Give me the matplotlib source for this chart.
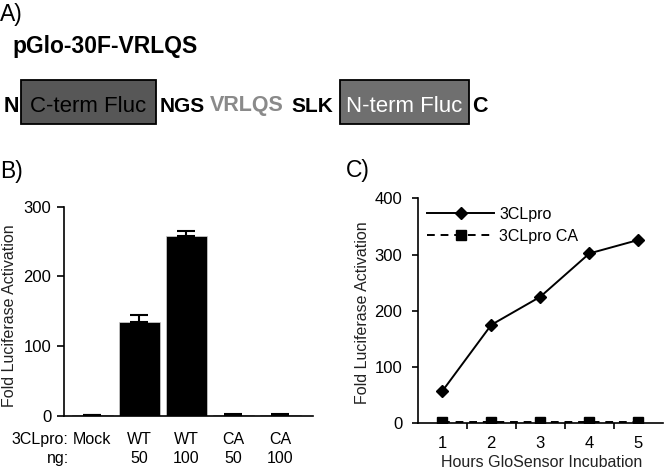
import numpy as np
import matplotlib
matplotlib.use("Agg")
import matplotlib.pyplot as plt
from matplotlib.patches import Rectangle

plt.rcParams['font.family'] = ['Liberation Sans', 'DejaVu Sans']

# --- data ---
# panel B: fold activation per transfection
b_row1 = ["Mock", "WT", "WT", "CA", "CA"]
b_row2 = ["", "50", "100", "50", "100"]
b_values = [1.0, 134, 258, 1.5, 1.5]
b_errors = [0.5, 10.5, 6.5, 0.5, 0.5]

# panel C: time course
c_hours = [1, 2, 3, 4, 5]
c_wt = [57, 175, 225, 302, 326]
c_ca = [2, 2, 2, 2, 2]
c_labels = ["3CLpro", "3CLpro CA"]

W, H = 666, 471
fig = plt.figure(figsize=(W / 100, H / 100), dpi=100)


def fx(px):
    return px / W


def fy(py):
    return 1 - py / H


# --- panel A: construct diagram ---
fig.text(fx(0), fy(21), "A)", fontsize=16.5, va='baseline', ha='left')
fig.text(fx(12), fy(53), "pGlo-30F-VRLQS", fontsize=16.5, fontweight='bold',
         va='baseline', ha='left')

base = fy(111.5)
fig.add_artist(Rectangle((fx(21), fy(124)), fx(156) - fx(21), fy(80) - fy(124),
                         transform=fig.transFigure, facecolor='#575757',
                         edgecolor='black', linewidth=1.3))
fig.add_artist(Rectangle((fx(340), fy(124)), fx(469) - fx(340), fy(80) - fy(124),
                         transform=fig.transFigure, facecolor='#6f6f6f',
                         edgecolor='black', linewidth=1.3))

row = dict(ha='center', va='baseline')
fig.text(fx(11.5), base, "N", fontsize=15.5, fontweight='bold', **row)
fig.text(fx(88), base, "C-term Fluc", fontsize=16, color='black', **row)
fig.text(fx(182.5), base, "NGS", fontsize=15, fontweight='bold', **row)
fig.text(fx(247), base, "VRLQS", fontsize=15.5, fontweight='bold', color='#8a8a8a', **row)
fig.text(fx(312.5), base, "SLK", fontsize=15, fontweight='bold', **row)
fig.text(fx(404), base, "N-term Fluc", fontsize=16, color='white', **row)
fig.text(fx(480), base, "C", fontsize=15.5, fontweight='bold', **row)

# --- panel B: bar chart ---
fig.text(fx(0), fy(178), "B)", fontsize=16.5, va='baseline', ha='left')
axb = fig.add_axes([fx(64), fy(415.7), fx(313) - fx(64), fy(206.7) - fy(415.7)])
x = np.arange(len(b_values))
axb.bar(x, b_values, width=0.87, color='black', edgecolor='#d0d0d0', linewidth=0.5)
axb.errorbar(x, b_values, yerr=[np.zeros(len(b_errors)), b_errors], fmt='none',
             ecolor='black', elinewidth=1.5, capsize=6.5, capthick=1.5)
axb.set_xlim(-0.6, 4.7)
axb.set_ylim(0, 300)
axb.set_yticks([0, 100, 200, 300])
axb.set_xticks([])
axb.spines[['top', 'right']].set_visible(False)
axb.spines[['left', 'bottom']].set_linewidth(1.2)
axb.tick_params(axis='y', direction='out', length=5, width=1.2, pad=4, labelsize=12)
axb.set_ylabel("Fold Luciferase Activation", fontsize=11.5, color='#222222')
axb.yaxis.set_label_coords(-0.19, 0.48)
tr = axb.get_xaxis_transform()
for i in range(len(b_row1)):
    axb.text(x[i], -0.112, b_row1[i], transform=tr, ha='center', va='center', fontsize=11.5)
    axb.text(x[i], -0.203, b_row2[i], transform=tr, ha='center', va='center', fontsize=11.5)
axb.text(-0.5, -0.112, "3CLpro:", transform=tr, ha='right', va='center', fontsize=11.5)
axb.text(-0.5, -0.203, "ng:", transform=tr, ha='right', va='center', fontsize=11.5)

# --- panel C: time course ---
fig.text(fx(346), fy(177), "C)", fontsize=16.5, va='baseline', ha='left')
axc = fig.add_axes([fx(417.7), fy(423.3), fx(663) - fx(417.7), fy(198.3) - fy(423.3)])
axc.plot(c_hours, c_wt, color='black', linestyle='-', linewidth=1.4, marker='D',
         markersize=6.5, label=c_labels[0])
axc.plot(c_hours, c_ca, color='black', linestyle=(0, (4, 3)), linewidth=1.4, marker='s',
         markersize=7, label=c_labels[1])
axc.set_xlim(0.5, 5.5)
axc.set_ylim(0, 400)
axc.set_yticks([0, 100, 200, 300, 400])
axc.set_xticks(c_hours)
axc.set_xticks([1.5, 2.5, 3.5, 4.5], minor=True)
axc.spines[['top', 'right']].set_visible(False)
axc.spines[['left', 'bottom']].set_linewidth(1.2)
axc.tick_params(axis='x', which='major', length=0, pad=9, labelsize=12)
axc.tick_params(axis='x', which='minor', direction='out', length=4, width=1.2)
axc.tick_params(axis='y', direction='out', length=4, width=1.2, pad=7, labelsize=12)
axc.set_ylabel("Fold Luciferase Activation", fontsize=11.5, color='#222222')
axc.yaxis.set_label_coords(-0.195, 0.49)
axc.set_xlabel("Hours GloSensor Incubation", fontsize=11.5, color='#222222')
axc.xaxis.set_label_coords(0.507, -0.141)
axc.legend(loc='upper left', bbox_to_anchor=(0.0, 1.005), frameon=False, fontsize=11.5,
           handlelength=4.2, handletextpad=0.3, labelspacing=0.45, borderaxespad=0.2)

fig.savefig("out.png", dpi=100)
